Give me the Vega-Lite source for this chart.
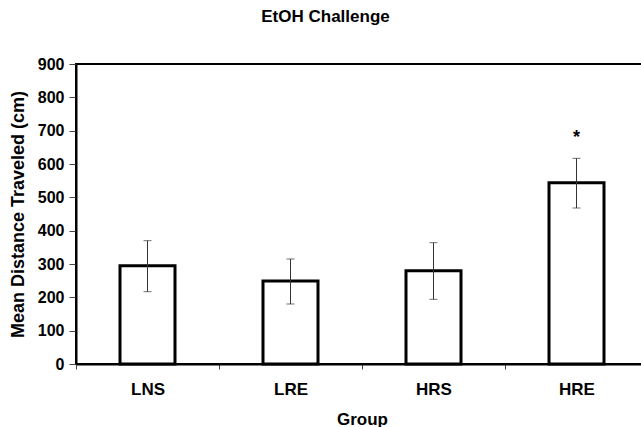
{
  "$schema": "https://vega.github.io/schema/vega-lite/v6.json",
  "autosize": "none",
  "width": 567,
  "height": 300,
  "padding": {"left": 76, "top": 64, "right": -2, "bottom": 63},
  "background": "white",
  "config": {
    "view": {"stroke": "black", "strokeWidth": 2},
    "font": "Liberation Sans",
    "axisY": {
      "values": [0, 100, 200, 300, 400, 500, 600, 700, 800, 900],
      "labelOverlap": false,
      "labelFlush": false,
      "grid": false,
      "labelFont": "Liberation Sans",
      "labelFontWeight": "bold",
      "labelFontSize": 16,
      "labelColor": "black",
      "labelPadding": 5,
      "tickSize": 7,
      "tickColor": "#444",
      "domainColor": "black",
      "domainWidth": 2,
      "titleFont": "Liberation Sans",
      "titleFontWeight": "bold",
      "titleFontSize": 18,
      "titleColor": "black",
      "titlePadding": 10
    }
  },
  "title": {
    "text": "EtOH Challenge",
    "font": "Liberation Sans",
    "fontSize": 17,
    "fontWeight": "bold",
    "color": "black",
    "offset": 30,
    "dx": -34
  },
  "data": {
    "values": [
      {"group": "LNS", "mean": 295, "lo": 217, "hi": 370, "mark": ""},
      {"group": "LRE", "mean": 249, "lo": 180, "hi": 315, "mark": ""},
      {"group": "HRS", "mean": 280, "lo": 194, "hi": 364, "mark": ""},
      {"group": "HRE", "mean": 544, "lo": 468, "hi": 617, "mark": "*"}
    ]
  },
  "encoding": {
    "x": {
      "field": "group",
      "type": "nominal",
      "sort": null,
      "scale": {"range": [0, 572], "paddingInner": 0, "paddingOuter": 0},
      "axis": {
        "title": "Group",
        "labelAngle": 0,
        "labelFont": "Liberation Sans",
        "labelFontWeight": "bold",
        "labelFontSize": 17,
        "labelColor": "black",
        "labelPadding": 12,
        "titleFont": "Liberation Sans",
        "titleFontWeight": "bold",
        "titleFontSize": 17,
        "titleColor": "black",
        "titlePadding": 14,
        "tickBand": "extent",
        "tickSize": 5,
        "tickColor": "#444",
        "domainColor": "black",
        "domainWidth": 2
      }
    }
  },
  "layer": [
    {
      "mark": {"type": "bar", "fill": "white", "stroke": "black", "strokeWidth": 3, "size": 55},
      "encoding": {
        "y": {
          "field": "mean",
          "type": "quantitative",
          "scale": {"domain": [0, 900], "nice": false},
          "axis": {"title": "Mean Distance Traveled (cm)", "values": [0, 100, 200, 300, 400, 500, 600, 700, 800, 900], "labelOverlap": false}
        }
      }
    },
    {
      "mark": {"type": "rule", "color": "#333", "strokeWidth": 1},
      "encoding": {"y": {"field": "lo", "type": "quantitative", "axis": {"title": "Mean Distance Traveled (cm)", "values": [0, 100, 200, 300, 400, 500, 600, 700, 800, 900], "labelOverlap": false}}, "y2": {"field": "hi"}}
    },
    {
      "mark": {"type": "tick", "color": "#333", "thickness": 1, "size": 8, "orient": "horizontal"},
      "encoding": {"y": {"field": "lo", "type": "quantitative", "axis": {"title": "Mean Distance Traveled (cm)", "values": [0, 100, 200, 300, 400, 500, 600, 700, 800, 900], "labelOverlap": false}}}
    },
    {
      "mark": {"type": "tick", "color": "#333", "thickness": 1, "size": 8, "orient": "horizontal"},
      "encoding": {"y": {"field": "hi", "type": "quantitative", "axis": {"title": "Mean Distance Traveled (cm)", "values": [0, 100, 200, 300, 400, 500, 600, 700, 800, 900], "labelOverlap": false}}}
    },
    {
      "mark": {"type": "text", "font": "Liberation Sans", "fontWeight": "bold", "fontSize": 18, "baseline": "middle", "color": "black", "dy": 4},
      "encoding": {"y": {"datum": 690, "type": "quantitative", "axis": {"title": "Mean Distance Traveled (cm)", "values": [0, 100, 200, 300, 400, 500, 600, 700, 800, 900], "labelOverlap": false}}, "text": {"field": "mark"}}
    }
  ]
}
